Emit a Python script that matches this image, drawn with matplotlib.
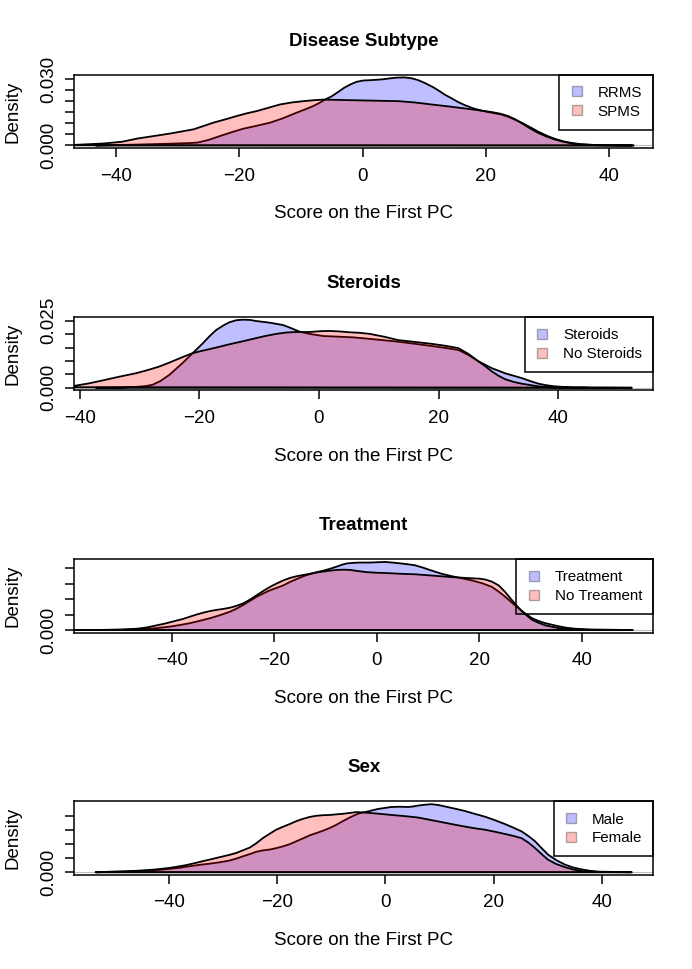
import matplotlib
matplotlib.use('Agg')
import matplotlib.pyplot as plt
from matplotlib.lines import Line2D

plt.rcParams['font.family'] = ['Liberation Sans', 'DejaVu Sans']

# Density estimates (score on first PC -> density)
rrms_x = [-43.3, -36.6, -31.2, -28.0, -26.8, -25.0, -23.1, -21.0, -19.3, -17.0, -15.0, -13.0, -10.7, -9.3, -8.0,
          -7.0, -6.1, -5.0, -4.2, -3.0, -2.0, -1.0, 0.1, 1.5, 3.1, 4.5, 5.5, 6.8, 8.0, 9.0, 10.1, 11.5, 12.5, 13.3,
          14.5, 15.5, 16.6, 18.0, 19.2, 20.5, 22.5, 23.6, 24.6, 26.0, 27.3, 28.6, 30.0, 31.3, 32.7, 34.0, 35.4,
          38.1, 43.7]
rrms_y = [0.0, 0.0004, 0.0008, 0.0011, 0.0013, 0.0025, 0.0043, 0.0062, 0.0076, 0.0090, 0.0103, 0.0122, 0.0148,
          0.0163, 0.0178, 0.0192, 0.0207, 0.0222, 0.0237, 0.0260, 0.0275, 0.0287, 0.0293, 0.0295, 0.0298, 0.0303,
          0.0306, 0.0307, 0.0303, 0.0295, 0.0282, 0.0262, 0.0245, 0.0230, 0.0212, 0.0196, 0.0182, 0.0167, 0.0158,
          0.0150, 0.0140, 0.0130, 0.0118, 0.0100, 0.0081, 0.0061, 0.0043, 0.0029, 0.0018, 0.0011, 0.0006, 0.0001,
          0.0]
spms_x = [-50.0, -46.5, -42.0, -39.0, -36.6, -31.2, -27.4, -24.2, -22.0, -20.4, -18.8, -17.2, -15.3, -13.4, -11.5,
          -9.6, -8.0, -6.4, -3.0, 0.4, 5.8, 8.5, 11.2, 14.0, 16.6, 18.8, 20.9, 22.4, 23.6, 24.7, 25.7, 27.0, 28.4,
          29.8, 31.1, 32.4, 33.8, 35.4, 37.0, 39.8, 44.0]
spms_y = [0.0001, 0.0003, 0.0009, 0.0017, 0.0031, 0.0054, 0.0073, 0.0103, 0.0120, 0.0133, 0.0145, 0.0155, 0.0170,
          0.0185, 0.0194, 0.0200, 0.0204, 0.0207, 0.0205, 0.0203, 0.0200, 0.0194, 0.0185, 0.0176, 0.0167, 0.0159,
          0.0151, 0.0143, 0.0133, 0.0119, 0.0103, 0.0080, 0.0058, 0.0041, 0.0028, 0.0018, 0.0010, 0.0005, 0.0003,
          0.0001, 0.0]

ster_x = [-37.3, -33.0, -30.6, -29.0, -27.8, -26.5, -25.0, -23.9, -22.8, -21.1, -19.4, -18.3, -17.2, -16.0, -15.0,
          -13.8, -12.7, -11.5, -10.5, -8.3, -6.0, -4.6, -3.2, -1.6, 0.7, 2.9, 5.7, 7.7, 10.5, 13.2, 16.0, 18.8, 21.0,
          23.3, 25.0, 26.7, 28.9, 31.1, 33.9, 35.3, 36.7, 38.1, 39.5, 42.3, 52.3]
ster_y = [0.0, 0.0001, 0.0003, 0.0006, 0.0011, 0.0025, 0.0048, 0.0070, 0.0092, 0.0129, 0.0166, 0.0192, 0.0215,
          0.0232, 0.0244, 0.0252, 0.0254, 0.0253, 0.0249, 0.0243, 0.0234, 0.0222, 0.0209, 0.0201, 0.0193, 0.0191,
          0.0188, 0.0184, 0.0178, 0.0172, 0.0164, 0.0156, 0.0149, 0.0141, 0.0122, 0.0098, 0.0073, 0.0054, 0.0036,
          0.0025, 0.0015, 0.0009, 0.0005, 0.0001, 0.0]
nost_x = [-45.0, -40.9, -38.5, -36.2, -33.4, -30.6, -28.6, -26.7, -25.3, -23.9, -22.5, -21.1, -19.7, -18.3, -16.6,
          -15.0, -13.0, -11.1, -9.0, -7.1, -5.5, -3.8, -1.6, 0.2, 1.8, 3.5, 5.1, 6.8, 8.5, 11.0, 13.2, 16.0, 18.8,
          21.0, 23.3, 25.0, 26.7, 27.8, 28.9, 30.0, 31.1, 32.5, 33.9, 36.7, 39.5, 45.0]
nost_y = [0.0002, 0.0007, 0.0016, 0.0027, 0.0041, 0.0054, 0.0066, 0.0079, 0.0091, 0.0104, 0.0117, 0.0129, 0.0137,
          0.0144, 0.0153, 0.0162, 0.0172, 0.0182, 0.0193, 0.0201, 0.0206, 0.0208, 0.0208, 0.0211, 0.0212, 0.0210,
          0.0207, 0.0205, 0.0201, 0.0190, 0.0178, 0.0171, 0.0164, 0.0157, 0.0148, 0.0126, 0.0098, 0.0080, 0.0061,
          0.0045, 0.0032, 0.0022, 0.0015, 0.0005, 0.0001, 0.0]

trt_x = [-54.9, -50.0, -45.6, -43.0, -40.4, -38.5, -36.5, -34.5, -32.6, -30.6, -28.7, -27.4, -26.1, -24.8, -23.5,
         -22.2, -20.9, -19.6, -18.3, -17.0, -15.6, -14.3, -13.0, -11.7, -10.4, -9.1, -7.8, -6.8, -5.9, -4.6, -3.3,
         -1.3, 0.2, 1.6, 3.0, 4.2, 5.8, 7.5, 9.1, 10.7, 12.6, 14.6, 16.6, 18.6, 20.6, 22.5, 23.8, 25.1, 26.4, 27.7,
         29.0, 30.3, 31.6, 32.9, 34.2, 35.5, 37.1, 38.8, 42.0, 49.8]
trt_y = [0.0, 0.0001, 0.0003, 0.0006, 0.0011, 0.0016, 0.0022, 0.0030, 0.0038, 0.0048, 0.0059, 0.0069, 0.0081,
         0.0094, 0.0107, 0.0118, 0.0128, 0.0136, 0.0144, 0.0155, 0.0165, 0.0174, 0.0181, 0.0187, 0.0192, 0.0198,
         0.0205, 0.0211, 0.0215, 0.0217, 0.0218, 0.0218, 0.0219, 0.0220, 0.0218, 0.0216, 0.0213, 0.0209, 0.0201,
         0.0192, 0.0182, 0.0174, 0.0167, 0.0160, 0.0151, 0.0139, 0.0124, 0.0107, 0.0088, 0.0070, 0.0053, 0.0038,
         0.0029, 0.0022, 0.0017, 0.0012, 0.0007, 0.0004, 0.0001, 0.0]
notrt_x = [-60.0, -54.7, -50.0, -46.9, -45.0, -43.0, -41.3, -39.7, -38.0, -36.5, -35.2, -33.9, -32.6, -31.3, -30.0,
           -28.7, -27.4, -26.1, -24.8, -23.5, -22.2, -20.9, -19.6, -18.3, -17.0, -15.6, -14.3, -13.0, -11.7, -10.4,
           -9.1, -7.8, -6.5, -5.2, -3.9, -2.0, 0.0, 2.0, 4.2, 7.5, 10.7, 14.6, 18.6, 20.0, 21.2, 22.5, 23.8, 25.1,
           26.4, 27.4, 28.4, 29.4, 30.3, 31.6, 32.9, 35.5, 38.1, 40.7, 50.0]
notrt_y = [0.0, 0.0, 0.0001, 0.0004, 0.0008, 0.0015, 0.0021, 0.0028, 0.0035, 0.0043, 0.0050, 0.0056, 0.0061,
           0.0065, 0.0068, 0.0072, 0.0078, 0.0086, 0.0098, 0.0112, 0.0126, 0.0139, 0.0150, 0.0160, 0.0168, 0.0174,
           0.0178, 0.0182, 0.0186, 0.0189, 0.0192, 0.0194, 0.0195, 0.0194, 0.0191, 0.0187, 0.0185, 0.0184, 0.0182,
           0.0180, 0.0176, 0.0171, 0.0167, 0.0166, 0.0163, 0.0156, 0.0144, 0.0122, 0.0096, 0.0077, 0.0059, 0.0045,
           0.0033, 0.0023, 0.0015, 0.0006, 0.0003, 0.0001, 0.0]

male_x = [-53.6, -48.0, -43.1, -40.0, -38.0, -36.3, -34.4, -32.6, -30.7, -28.9, -27.6, -26.4, -25.1, -23.9, -22.7,
          -21.4, -20.2, -19.0, -17.7, -16.5, -15.3, -14.0, -12.8, -11.6, -10.3, -9.1, -7.9, -6.6, -5.7, -4.8, -3.8,
          -2.9, -1.4, 0.0, 1.1, 2.6, 4.2, 5.2, 6.0, 7.3, 8.5, 9.8, 11.0, 12.9, 14.7, 16.5, 18.4, 20.2, 22.1, 23.7,
          25.2, 26.5, 27.7, 28.9, 30.1, 31.6, 33.2, 34.7, 36.3, 37.9, 39.4, 45.6]
male_y = [0.0, 0.0002, 0.0006, 0.0012, 0.0016, 0.0021, 0.0026, 0.0030, 0.0035, 0.0041, 0.0048, 0.0056, 0.0064,
          0.0072, 0.0077, 0.0080, 0.0085, 0.0091, 0.0099, 0.0109, 0.0119, 0.0130, 0.0138, 0.0146, 0.0156, 0.0167,
          0.0180, 0.0193, 0.0201, 0.0208, 0.0212, 0.0216, 0.0223, 0.0227, 0.0230, 0.0231, 0.0230, 0.0232, 0.0235,
          0.0238, 0.0240, 0.0237, 0.0232, 0.0224, 0.0216, 0.0206, 0.0196, 0.0184, 0.0170, 0.0157, 0.0144, 0.0127,
          0.0109, 0.0085, 0.0062, 0.0043, 0.0027, 0.0017, 0.0010, 0.0005, 0.0002, 0.0]
female_x = [-53.6, -46.1, -43.0, -40.0, -38.4, -36.9, -35.3, -33.8, -32.2, -30.7, -29.1, -27.6, -26.4, -25.1, -23.9,
            -22.7, -21.4, -20.2, -19.0, -17.7, -16.5, -15.3, -14.0, -12.8, -11.6, -10.3, -9.1, -7.9, -6.6, -5.4,
            -4.2, -2.9, -1.0, 1.1, 3.5, 6.0, 7.9, 9.8, 12.2, 14.7, 16.5, 18.4, 20.2, 22.1, 23.7, 25.2, 26.5, 27.7,
            28.9, 30.1, 31.6, 33.2, 34.7, 36.3, 39.4, 45.3]
female_y = [0.0, 0.0005, 0.0009, 0.0015, 0.0020, 0.0025, 0.0032, 0.0039, 0.0046, 0.0053, 0.0060, 0.0068, 0.0077,
            0.0087, 0.0102, 0.0120, 0.0136, 0.0150, 0.0160, 0.0170, 0.0180, 0.0188, 0.0195, 0.0199, 0.0201, 0.0202,
            0.0204, 0.0206, 0.0209, 0.0212, 0.0211, 0.0209, 0.0206, 0.0202, 0.0198, 0.0193, 0.0186, 0.0179, 0.0170,
            0.0161, 0.0155, 0.0150, 0.0143, 0.0135, 0.0128, 0.0120, 0.0104, 0.0085, 0.0064, 0.0044, 0.0029, 0.0018,
            0.0010, 0.0004, 0.0001, 0.0]

titles = ['Disease Subtype', 'Steroids', 'Treatment', 'Sex']
group_labels = [('RRMS', 'SPMS'), ('Steroids', 'No Steroids'), ('Treatment', 'No Treament'), ('Male', 'Female')]
ytick_max = [0.030, 0.025, 0.020, 0.020]
ytick_shown = [(0.000, 0.030), (0.000, 0.025), (0.000,), (0.000,)]

BLUE = (0, 0, 1, 0.25)
RED = (1, 0, 0, 0.25)
FS = 13.5


def draw_panel(ax, title, x1, y1, x2, y2, labels, ymax, shown):
    ''' One density panel, R style '''
    rng = max(x1) - min(x1)
    ax.set_xlim(min(x1) - 0.04 * rng, max(x1) + 0.04 * rng)
    top = max(y1)
    ax.set_ylim(-0.04 * top, 1.04 * top)
    ax.axhline(0, color='#bebebe', lw=0.8, zorder=1)
    ax.fill(x1, y1, facecolor=BLUE, edgecolor='black', lw=1.3, joinstyle='round', zorder=2)
    ax.fill(x2, y2, facecolor=RED, edgecolor='black', lw=1.3, joinstyle='round', zorder=3)

    ax.set_xticks([-40, -20, 0, 20, 40])
    n = int(round(ymax / 0.005))
    yt = [k * 0.005 for k in range(n + 1)]
    ax.set_yticks(yt)
    ax.set_yticklabels(['%.3f' % v if any(abs(v - s) < 1e-9 for s in shown) else '' for v in yt])
    ax.tick_params(axis='both', direction='out', length=6.5, width=1.1, labelsize=FS)
    ax.tick_params(axis='x', pad=7.5)
    ax.tick_params(axis='y', pad=6, labelrotation=90)
    for lab in ax.get_yticklabels():
        lab.set_va('center')
    for s in ax.spines.values():
        s.set_linewidth(1.1)

    ax.set_title(title, fontsize=FS, fontweight='bold', pad=21)
    ax.set_xlabel('Score on the First PC', fontsize=FS, labelpad=15)
    ax.set_ylabel('Density', fontsize=FS, labelpad=13)

    handles = [Line2D([], [], marker='s', linestyle='none', markersize=6.5,
                      markerfacecolor=c, markeredgecolor=(0, 0, 0, 0.3)) for c in (BLUE, RED)]
    leg = ax.legend(handles, labels, loc='upper right', borderaxespad=0, fontsize=10.9,
                    fancybox=False, edgecolor='black', facecolor='none', framealpha=1,
                    borderpad=0.73, handlelength=0.8, handletextpad=1.0, labelspacing=0.32)
    leg.get_frame().set_linewidth(1.1)
    leg.set_zorder(5)


fig = plt.figure(figsize=(6.92, 9.69), dpi=100)
series = [(rrms_x, rrms_y, spms_x, spms_y), (ster_x, ster_y, nost_x, nost_y),
          (trt_x, trt_y, notrt_x, notrt_y), (male_x, male_y, female_x, female_y)]
for i in range(4):
    top_px = 74.7 + 242.25 * i
    ax = fig.add_axes([74.3 / 692, 1 - (top_px + 73.5) / 969, 579 / 692, 73.5 / 969])
    x1, y1, x2, y2 = series[i]
    draw_panel(ax, titles[i], x1, y1, x2, y2, group_labels[i], ytick_max[i], ytick_shown[i])

fig.savefig('out.png', dpi=100)
